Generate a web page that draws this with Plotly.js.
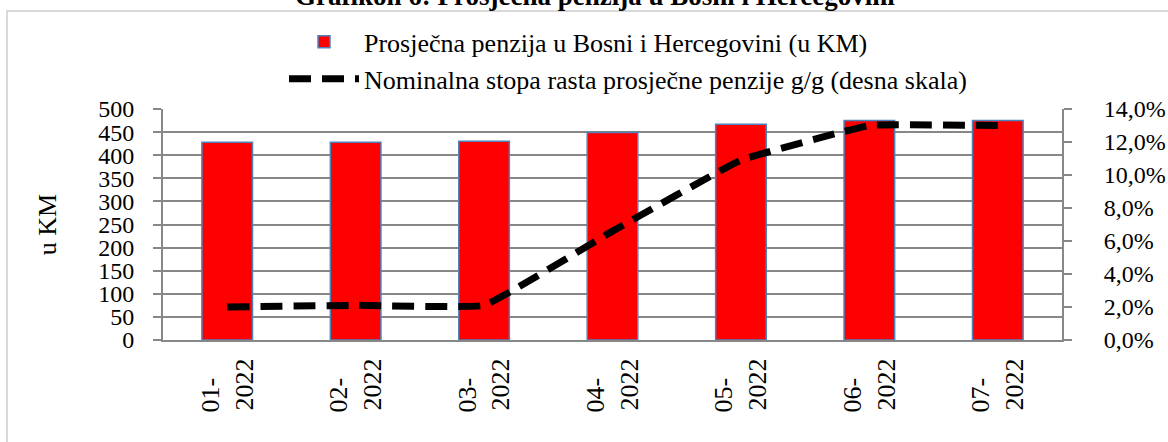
<!DOCTYPE html>
<html>
<head>
<meta charset="utf-8">
<script src="https://cdn.plot.ly/plotly-3.0.1.min.js"></script>
<style>html,body{margin:0;padding:0;background:#fff;}#chart{width:1168px;height:442px;}</style>
</head>
<body>
<div id="chart"></div>
<script>
var categories = ['01-2022','02-2022','03-2022','04-2022','05-2022','06-2022','07-2022'];
var tickLabels = ['01-&nbsp;&nbsp;&nbsp;<br>2022','02-&nbsp;&nbsp;&nbsp;<br>2022','03-&nbsp;&nbsp;&nbsp;<br>2022','04-&nbsp;&nbsp;&nbsp;<br>2022','05-&nbsp;&nbsp;&nbsp;<br>2022','06-&nbsp;&nbsp;&nbsp;<br>2022','07-&nbsp;&nbsp;&nbsp;<br>2022'];
var pension = [428, 428, 430, 449, 467, 475, 475];
var growth = [0.020, 0.021, 0.021, 0.066, 0.109, 0.130, 0.130];
var seriesNames = ['Prosječna penzija u Bosni i Hercegovini (u KM)', 'Nominalna stopa rasta prosječne penzije g/g (desna skala)'];
var titleText = 'Grafikon 6: Prosječna penzija u Bosni i Hercegovini';

var FONT = 'Liberation Serif, Times New Roman, serif';
var GRID = '#878787';

var traces = [
  {
    type: 'bar', x: categories, y: pension, name: seriesNames[0],
    marker: {color: '#FF0000', line: {color: '#4F81BD', width: 1.5}},
    hoverinfo: 'skip'
  },
  {
    type: 'scatter', mode: 'lines', x: categories, y: growth, yaxis: 'y2', name: seriesNames[1],
    line: {color: '#000000', width: 7, dash: '22px,11px', shape: 'spline', smoothing: 0.25},
    hoverinfo: 'skip'
  }
];

var layout = {
  width: 1168, height: 442,
  margin: {l: 163, r: 106, t: 109, b: 102, pad: 0},
  paper_bgcolor: '#ffffff', plot_bgcolor: '#ffffff',
  font: {family: FONT, size: 24, color: '#000000'},
  separators: ', ',
  showlegend: true,
  bargap: 0.606,
  legend: {
    orientation: 'v', x: 0.1346, xanchor: 'left', y: 1.392, yanchor: 'top',
    font: {family: FONT, size: 26, color: '#000000'},
    bgcolor: 'rgba(0,0,0,0)', tracegroupgap: 0, itemwidth: 70
  },
  annotations: [
    {text: '<b>' + titleText + '</b>', xref: 'paper', yref: 'paper',
     x: 0.480, xanchor: 'center', y: (340 + 4) / 231, yanchor: 'middle',
     showarrow: false, font: {family: FONT, size: 27, color: '#000000'}}
  ],
  xaxis: {
    type: 'category',
    tickmode: 'array', tickvals: categories, ticktext: tickLabels,
    tickangle: -90,
    showline: true, linecolor: GRID, linewidth: 2,
    showgrid: false, ticks: '', zeroline: false,
    ticklabelstandoff: 6,
    tickfont: {family: FONT, size: 26, color: '#000000'}
  },
  yaxis: {
    range: [0, 500], dtick: 50, tick0: 0,
    showline: true, linecolor: GRID, linewidth: 2,
    showgrid: true, gridcolor: GRID, gridwidth: 2,
    ticks: 'outside', ticklen: 8, tickcolor: GRID, tickwidth: 2,
    ticklabelstandoff: 14,
    zeroline: false,
    tickfont: {family: FONT, size: 24, color: '#000000'},
    title: {text: 'u KM', font: {family: FONT, size: 26, color: '#000000'}, standoff: 34}
  },
  yaxis2: {
    overlaying: 'y', side: 'right',
    range: [0, 0.14], dtick: 0.02, tick0: 0, tickformat: '.1%',
    showline: true, linecolor: GRID, linewidth: 2,
    showgrid: false, zeroline: false,
    ticks: 'outside', ticklen: 8, tickcolor: GRID, tickwidth: 2,
    ticklabelstandoff: 27,
    tickfont: {family: FONT, size: 24, color: '#000000'}
  },
  shapes: [
    {type: 'rect', xref: 'paper', yref: 'paper', x0: (7 - 163) / 899, x1: 1.13, y0: -0.5, y1: (340 - 11) / 231,
     line: {color: '#d9d9d9', width: 2}, fillcolor: 'rgba(0,0,0,0)', layer: 'below'}
  ]
};

Plotly.newPlot('chart', traces, layout, {displayModeBar: false, staticPlot: true});
</script>
</body>
</html>
